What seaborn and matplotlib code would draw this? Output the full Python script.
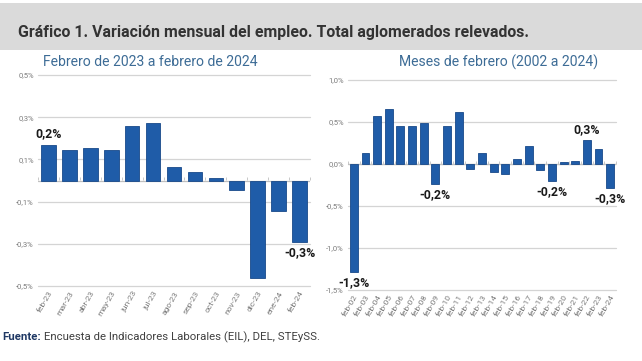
import matplotlib
matplotlib.use("Agg")
import matplotlib.pyplot as plt
import seaborn as sns
import pandas as pd
import numpy as np
from matplotlib.patches import Rectangle

# ---------------- data ----------------
left_months = ["feb-23", "mar-23", "abr-23", "may-23", "jun-23", "jul-23", "ago-23",
               "sep-23", "oct-23", "nov-23", "dic-23", "ene-24", "feb-24"]
left_values = [0.17, 0.146, 0.155, 0.144, 0.259, 0.273, 0.065, 0.041, 0.01,
               -0.046, -0.463, -0.146, -0.292]
left_yticks = [0.5, 0.3, 0.1, -0.1, -0.3, -0.5]
left_ytick_labels = ["0,5%", "0,3%", "0,1%", "-0,1%", "-0,3%", "-0,5%"]

right_years = ["feb-02", "feb-03", "feb-04", "feb-05", "feb-06", "feb-07", "feb-08",
               "feb-09", "feb-10", "feb-11", "feb-12", "feb-13", "feb-14", "feb-15",
               "feb-16", "feb-17", "feb-18", "feb-19", "feb-20", "feb-21", "feb-22",
               "feb-23", "feb-24"]
right_values = [-1.28, 0.135, 0.567, 0.651, 0.448, 0.448, 0.492, -0.238, 0.448,
                0.615, -0.063, 0.131, -0.099, -0.123, 0.063, 0.21, -0.067, -0.2,
                0.02, 0.03, 0.286, 0.175, -0.29]
right_yticks = [1.0, 0.5, 0.0, -0.5, -1.0, -1.5]
right_ytick_labels = ["1,0%", "0,5%", "0,0%", "-0,5%", "-1,0%", "-1,5%"]

left_annot = {"feb-23": "0,2%", "feb-24": "-0,3%"}
right_annot = {"feb-02": "-1,3%", "feb-09": "-0,2%", "feb-19": "-0,2%",
               "feb-22": "0,3%", "feb-24": "-0,3%"}

title = "Gráfico 1. Variación mensual del empleo. Total aglomerados relevados."
left_sub = "Febrero de 2023 a febrero de 2024"
right_sub = "Meses de febrero (2002 a 2024)"
source_bold = "Fuente:"
source_rest = " Encuesta de Indicadores Laborales (EIL), DEL, STEySS."

# ---------------- style ----------------
sns.set_theme(style="white")
plt.rcParams["font.family"] = ["Roboto", "DejaVu Sans"]

BAR = "#1f5ca8"
EDGE = "#18498a"
GRID = "#d4d4d4"
TICKC = "#7a7a7a"
SUBC = "#3d6c96"

fig = plt.figure(figsize=(6.42, 3.61), dpi=100)
fig.patch.set_facecolor("white")

# title band
fig.patches.append(Rectangle((0, 1 - 50 / 361), 1, 47 / 361, transform=fig.transFigure,
                             facecolor="#dadada", edgecolor="none", zorder=0))
fig.text(18 / 642, 1 - 32 / 361, title, fontsize=11.4, fontweight="bold",
         color="#333333", va="center", ha="left",
         family=["Liberation Sans Narrow", "Roboto", "DejaVu Sans"])


def draw(ax, cats, vals, yticks, ylabels, annots, ylim, width):
    df = pd.DataFrame({"cat": cats, "val": vals})
    sns.barplot(data=df, x="cat", y="val", order=cats, color=BAR, width=width,
                edgecolor=EDGE, linewidth=0.6, saturation=1, ax=ax, zorder=3)
    ax.set_ylim(*ylim)
    ax.set_xlim(-0.5, len(cats) - 0.5)
    ax.set_yticks(yticks)
    ax.set_yticklabels(ylabels, fontsize=5.5, color=TICKC)
    for t in yticks:
        ax.axhline(t, color=GRID, lw=0.9, zorder=1, clip_on=False)
    ax.axhline(0, color="#bfbfbf", lw=0.9, zorder=2)
    ax.set_xticks(range(len(cats)))
    ax.set_xticklabels(cats, rotation=60, ha="right", rotation_mode="anchor",
                       fontsize=6, color=TICKC)
    ax.tick_params(axis="both", length=0, pad=3)
    ax.set_xlabel("")
    ax.set_ylabel("")
    for s in ax.spines.values():
        s.set_visible(False)
    ax.set_facecolor("white")
    # tick marks on the zero line at category boundaries
    frac0 = (0 - ylim[0]) / (ylim[1] - ylim[0])
    sec = ax.secondary_xaxis(frac0)
    sec.set_xticks(np.arange(-0.5, len(cats), 1.0))
    sec.set_xticklabels([])
    sec.tick_params(length=2.5, color="#bfbfbf", width=0.6, direction="out")
    for s in sec.spines.values():
        s.set_visible(False)
    # annotations
    for i, c in enumerate(cats):
        if c in annots:
            v = vals[i]
            off = 3 if v >= 0 else -3
            ax.annotate(annots[c], (i, v), xytext=(0, off), textcoords="offset points",
                        ha="center", va="bottom" if v >= 0 else "top",
                        fontsize=8.8, fontweight="bold", color="#1a1a1a", zorder=5,
                        annotation_clip=False)


axL = fig.add_axes([38 / 642, (361 - 286) / 361, 272 / 642, 211 / 361])
draw(axL, left_months, left_values, left_yticks, left_ytick_labels, left_annot,
     (-0.5, 0.5), 0.7)
axR = fig.add_axes([348 / 642, (361 - 290) / 361, 268 / 642, 210 / 361])
draw(axR, right_years, right_values, right_yticks, right_ytick_labels, right_annot,
     (-1.5, 1.0), 0.68)

fig.text(150 / 642, 1 - 62 / 361, left_sub, fontsize=10.1, color=SUBC,
         ha="center", va="center")
fig.text(499 / 642, 1 - 62 / 361, right_sub, fontsize=10.1, color=SUBC,
         ha="center", va="center")

t1 = fig.text(2 / 642, 1 - 337 / 361, source_bold, fontsize=8.2, fontweight="bold",
              color="#1f3864", ha="left", va="center")
fig.canvas.draw()
bb = t1.get_window_extent()
fig.text(bb.x1 / fig.bbox.width, 1 - 337 / 361, source_rest, fontsize=8.2,
         color="#404040", ha="left", va="center")

fig.savefig("out.png", dpi=100, facecolor="white")
